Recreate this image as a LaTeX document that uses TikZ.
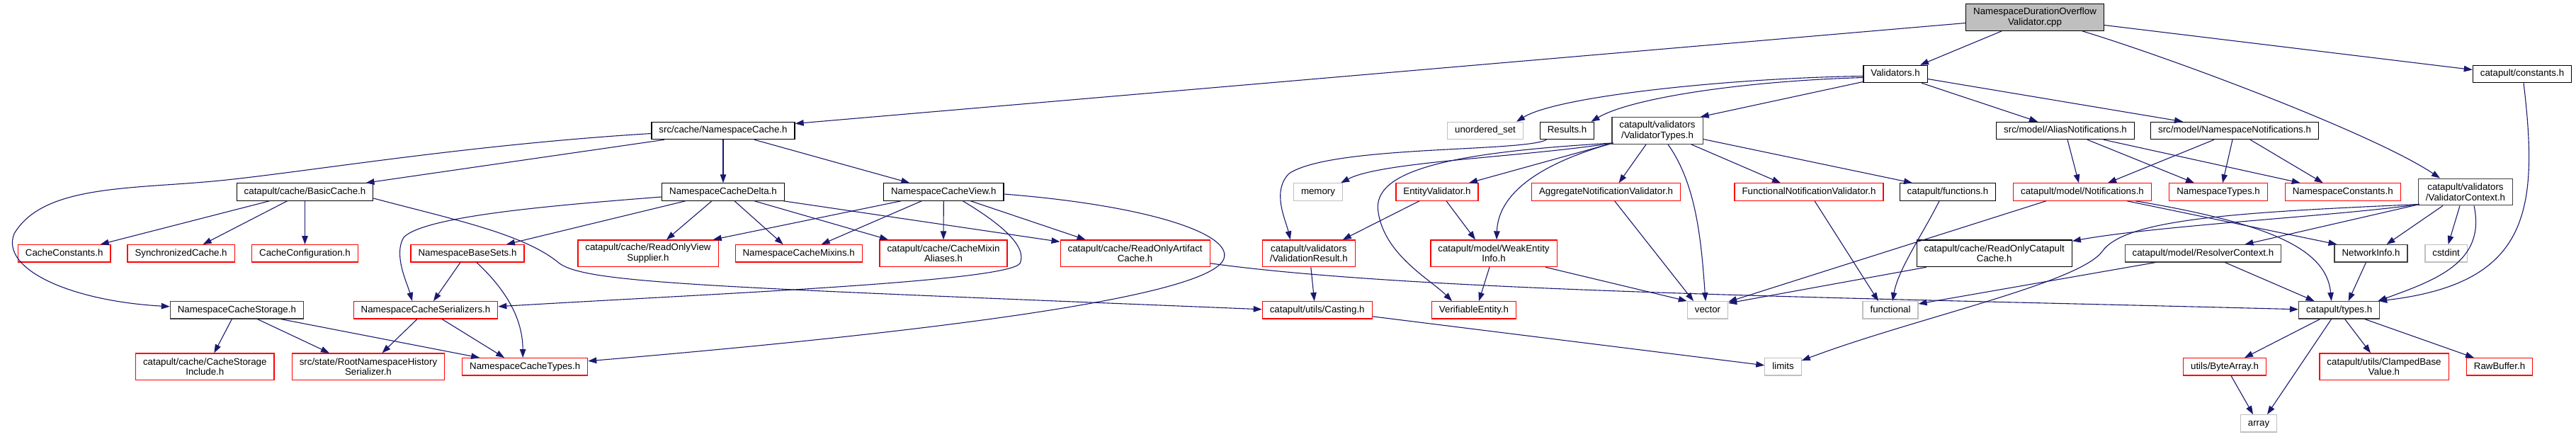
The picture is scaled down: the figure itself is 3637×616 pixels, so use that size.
\documentclass[tikz,border=0pt]{standalone}
\usepackage{fontspec}
\setmainfont{Liberation Sans}
\usetikzlibrary{arrows.meta}
\definecolor{edgecol}{RGB}{25,25,112}
\definecolor{dkgray}{RGB}{64,64,64}
\definecolor{ltgray}{RGB}{191,191,191}
\definecolor{rootfill}{RGB}{191,191,191}
\definecolor{redc}{RGB}{255,0,0}
\begin{document}
\begin{tikzpicture}[x=1pt,y=-1pt,
  nb/.style={line width=1.2pt, fill=white, inner xsep=10.5pt, inner ysep=0pt, font=\fontsize{13.3}{14.5}\selectfont},
  one/.style={nb, minimum height=24.3pt, text height=9.7pt, text depth=2.9pt},
  two/.style={nb, minimum height=37.7pt, align=center},
  blk/.style={draw=black},
  dg/.style={draw=dkgray},
  rd/.style={draw=redc},
  gr/.style={draw=ltgray},
  lk/.style={draw=edgecol, line width=1.1pt, -{Triangle[length=12pt,width=8.5pt]}, fill=none}
]
\useasboundingbox (0,0) rectangle (3637,616);

% row 0
\node[two,blk,fill=rootfill] (root) at (2873,24.5) {NamespaceDurationOverflow\\Validator.cpp};
% row 1
\node[one,blk] (val) at (2676,104.5) {Validators.h};
\node[one,blk] (const) at (3561,104.5) {catapult/constants.h};
% row 2
\node[one,blk] (nscache) at (1021,184.5) {src/cache/NamespaceCache.h};
\node[one,gr] (uset) at (2097,184.5) {unordered\_set};
\node[one,blk] (results) at (2212.5,184.5) {Results.h};
\node[two,dg] (vtypes) at (2340,184.5) {catapult/validators\\/ValidatorTypes.h};
\node[one,blk] (alias) at (2916,184.5) {src/model/AliasNotifications.h};
\node[one,blk] (nsnot) at (3155,184.5) {src/model/NamespaceNotifications.h};
% row 3
\node[one,blk] (basic) at (430.5,271) {catapult/cache/BasicCache.h};
\node[one,blk] (delta) at (1021,271) {NamespaceCacheDelta.h};
\node[one,blk] (view) at (1332.3,271) {NamespaceCacheView.h};
\node[one,gr] (memory) at (1861,271) {memory};
\node[one,rd] (entval) at (2029,271) {EntityValidator.h};
\node[one,rd] (aggval) at (2267.6,271) {AggregateNotificationValidator.h};
\node[one,rd] (funval) at (2554,271) {FunctionalNotificationValidator.h};
\node[one,blk] (functions) at (2750,271) {catapult/functions.h};
\node[one,rd] (notif) at (2940,271) {catapult/model/Notifications.h};
\node[one,rd] (nstypes) at (3132,271) {NamespaceTypes.h};
\node[one,rd] (nsconst) at (3307.7,271) {NamespaceConstants.h};
\node[two,dg] (vctx) at (3481,271) {catapult/validators\\/ValidatorContext.h};
% row 4
\node[one,rd] (cconst) at (90.7,357.8) {CacheConstants.h};
\node[one,rd] (sync) at (255.6,357.8) {SynchronizedCache.h};
\node[one,rd] (cconf) at (430.5,357.8) {CacheConfiguration.h};
\node[one,rd] (basesets) at (660,357.8) {NamespaceBaseSets.h};
\node[two,rd] (rovs) at (915,357.8) {catapult/cache/ReadOnlyView\\Supplier.h};
\node[one,rd] (mixins) at (1127.7,357.8) {NamespaceCacheMixins.h};
\node[two,rd] (mixal) at (1332,357.8) {catapult/cache/CacheMixin\\Aliases.h};
\node[two,rd] (roac) at (1602.6,357.8) {catapult/cache/ReadOnlyArtifact\\Cache.h};
\node[two,rd] (vres) at (1847.8,357.8) {catapult/validators\\/ValidationResult.h};
\node[two,rd] (wei) at (2109,357.8) {catapult/model/WeakEntity\\Info.h};
\node[two,blk] (rocc) at (2815.7,357.8) {catapult/cache/ReadOnlyCatapult\\Cache.h};
\node[one,dg] (resctx) at (3110.4,357.8) {catapult/model/ResolverContext.h};
\node[one,dg] (netinfo) at (3347.5,357.8) {NetworkInfo.h};
\node[one,gr] (cstdint) at (3453.6,357.8) {cstdint};
% row 5
\node[one,dg] (storage) at (334.4,437.8) {NamespaceCacheStorage.h};
\node[one,rd] (ser) at (601,437.8) {NamespaceCacheSerializers.h};
\node[one,rd] (casting) at (1859.7,437.8) {catapult/utils/Casting.h};
\node[one,rd] (verif) at (2081,437.8) {VerifiableEntity.h};
\node[one,gr] (vector) at (2411,437.8) {vector};
\node[one,gr] (functional) at (2669,437.8) {functional};
\node[one,dg] (types) at (3302.6,437.8) {catapult/types.h};
% row 6
\node[two,rd] (csi) at (289.3,517.8) {catapult/cache/CacheStorage\\Include.h};
\node[two,rd] (rnhs) at (520,517.8) {src/state/RootNamespaceHistory\\Serializer.h};
\node[one,rd] (nctypes) at (741.2,517.8) {NamespaceCacheTypes.h};
\node[one,gr] (limits) at (2517.5,517.8) {limits};
\node[one,rd] (bytearr) at (3141,517.8) {utils/ByteArray.h};
\node[two,rd] (clamped) at (3366,517.8) {catapult/utils/ClampedBase\\Value.h};
\node[one,rd] (rawbuf) at (3529,517.8) {RawBuffer.h};
% row 7
\node[one,gr] (array) at (3189,597.8) {array};

% ---- edges from root
\draw[lk] ([xshift=-47]root.south) -- ([xshift=35]val.north);
\draw[lk] ([yshift=-8]root.west) -- ([yshift=10]nscache.east);
\draw[lk] ([xshift=67]root.south) .. controls (3060,80) and (3350,188) .. ([xshift=-36]vctx.north);
\draw[lk] ([yshift=-11]root.east) -- ([yshift=6]const.west);
% ---- Validators.h
\draw[lk] ([yshift=-3]val.west) .. controls (2450,110) and (2200,135) .. ([xshift=44]uset.north);
\draw[lk] ([yshift=-5]val.west) .. controls (2450,115) and (2300,140) .. ([xshift=34]results.north);
\draw[lk] ([yshift=-11]val.west) -- ([xshift=-4]vtypes.north east);
\draw[lk] ([xshift=37]val.south) -- ([xshift=-39]alias.north);
\draw[lk] ([yshift=-7]val.east) -- ([xshift=-73]nsnot.north);
% ---- constants.h
\draw[lk] ([xshift=2]const.south) .. controls (3585,300) and (3570,400) .. ([xshift=-2]types.north east);
% ---- NamespaceCache.h
\draw[lk] ([yshift=-4]nscache.west) .. controls (650,205) and (420,245) .. (300,256)
  .. controls (180,267) and (60,262) .. (20,330)
  .. controls (0,380) and (100,425) .. ([yshift=5]storage.west);
\draw[lk] ([xshift=-83]nscache.south) -- ([xshift=86]basic.north);
\draw[lk] (nscache.south) -- (delta.north);
\draw[lk] ([xshift=44]nscache.south) -- ([xshift=-48]view.north);
% ---- BasicCache.h
\draw[lk] ([xshift=-50]basic.south) -- ([xshift=51]cconst.north);
\draw[lk] ([xshift=-25]basic.south) -- ([xshift=31]sync.north);
\draw[lk] (basic.south) -- (cconf.north);
\draw[lk] ([yshift=-9]basic.east) .. controls (640,310) and (740,330) .. (790,372)
  .. controls (830,400) and (1000,405) .. ([yshift=1]casting.west);
% ---- NamespaceCacheDelta.h
\draw[lk] ([yshift=-7]delta.west) .. controls (780,290) and (600,305) .. (570,335)
  .. controls (555,360) and (575,400) .. ([xshift=-19]ser.north);
\draw[lk] ([xshift=-53]delta.south) -- ([xshift=55]basesets.north);
\draw[lk] ([xshift=-16]delta.south) -- ([xshift=26]rovs.north);
\draw[lk] ([xshift=16]delta.south) -- ([xshift=-22]mixins.north);
\draw[lk] ([xshift=44]delta.south) -- ([xshift=-78]mixal.north);
\draw[lk] ([xshift=-2]delta.south east) -- ([yshift=-3]roac.north west);
% ---- NamespaceCacheView.h
\draw[lk] ([xshift=-60]view.south) -- ([xshift=-8]rovs.north east);
\draw[lk] ([xshift=-31]view.south) -- ([xshift=32]mixins.north);
\draw[lk] (view.south) -- (mixal.north);
\draw[lk] ([xshift=27]view.south) .. controls (1420,320) and (1450,350) .. (1440,372)
  .. controls (1420,398) and (1000,415) .. ([yshift=5]ser.east);
\draw[lk] ([xshift=38]view.south) -- ([xshift=-70]roac.north);
\draw[lk] ([yshift=-3]view.east) .. controls (1620,290) and (1740,330) .. (1728,365)
  .. controls (1710,420) and (1300,470) .. ([yshift=8]nctypes.east);
% ---- namespace cache helpers
\draw[lk] ([xshift=-10]basesets.south) -- ([xshift=11]ser.north);
\draw[lk] ([xshift=13]basesets.south) .. controls (715,410) and (738,450) .. ([xshift=-3]nctypes.north);
\draw[lk] ([xshift=-12]ser.south) -- ([xshift=19.5]rnhs.north);
\draw[lk] ([xshift=23]ser.south) -- ([xshift=-29]nctypes.north);
\draw[lk] ([xshift=-7]storage.south) -- ([xshift=13]csi.north);
\draw[lk] ([xshift=29]storage.south) -- ([xshift=-55]rnhs.north);
\draw[lk] ([xshift=62]storage.south) -- ([xshift=-64]nctypes.north);
% ---- Results.h
\draw[lk] ([xshift=-29]results.south) .. controls (2150,215) and (1880,205) .. (1820,245)
  .. controls (1795,270) and (1815,310) .. ([xshift=-26]vres.north);
% ---- ValidatorTypes.h
\draw[lk] ([xshift=2,yshift=2]vtypes.south west) .. controls (2150,222) and (1950,228) .. ([xshift=-3]memory.north east);
\draw[lk] ([xshift=2,yshift=2]vtypes.south west) -- ([xshift=45]entval.north);
\draw[lk] ([xshift=2,yshift=2]vtypes.south west) .. controls (2050,215) and (1935,240) .. (1946,300)
  .. controls (1955,360) and (2020,395) .. ([xshift=-31]verif.north);
\draw[lk] ([xshift=2,yshift=2]vtypes.south west) .. controls (2160,235) and (2115,280) .. ([xshift=4]wei.north);
\draw[lk] ([xshift=-16]vtypes.south) -- ([xshift=18]aggval.north);
\draw[lk] ([xshift=15]vtypes.south) .. controls (2395,260) and (2402,340) .. ([xshift=-3]vector.north);
\draw[lk] ([xshift=48]vtypes.south) -- ([xshift=-40]funval.north);
\draw[lk] ([yshift=-12]vtypes.east) -- ([xshift=-50]functions.north);
% ---- validators
\draw[lk] ([xshift=-25]entval.south) -- ([xshift=48]vres.north);
\draw[lk] ([xshift=13]entval.south) -- ([xshift=-26]wei.north);
\draw[lk] ([xshift=12]aggval.south) -- ([xshift=-20]vector.north);
\draw[lk] ([xshift=8]funval.south) -- ([xshift=-17]functional.north);
\draw[lk] ([xshift=-12]functions.south) .. controls (2715,330) and (2680,380) .. ([xshift=3]functional.north);
% ---- notifications
\draw[lk] ([xshift=3]alias.south) -- ([xshift=-5]notif.north);
\draw[lk] ([xshift=31]alias.south) -- ([xshift=-34]nstypes.north);
\draw[lk] ([xshift=54]alias.south) -- ([xshift=-60]nsconst.north);
\draw[lk] ([xshift=-29]nsnot.south) -- ([xshift=36]notif.north);
\draw[lk] ([xshift=-3]nsnot.south) -- ([xshift=6]nstypes.north);
\draw[lk] ([xshift=22]nsnot.south) -- ([xshift=-28]nsconst.north);
\draw[lk] ([xshift=-51]notif.south) -- ([yshift=-1]vector.north east);
\draw[lk] ([xshift=63]notif.south) -- ([xshift=-48]netinfo.north);
\draw[lk] ([xshift=75]notif.south) .. controls (3200,315) and (3285,350) .. ([xshift=-11]types.north);
% ---- ValidatorContext.h
\draw[lk] ([xshift=2,yshift=2]vctx.south west) .. controls (3300,305) and (3050,318) .. ([yshift=-2]rocc.north east);
\draw[lk] ([xshift=2,yshift=2]vctx.south west) -- ([xshift=59]resctx.north);
\draw[lk] ([xshift=2,yshift=2]vctx.south west) .. controls (3150,300) and (3000,310) .. (2968,355)
  .. controls (2935,400) and (2700,450) .. ([yshift=-4]limits.north east);
\draw[lk] ([xshift=-32]vctx.south) -- ([xshift=22]netinfo.north);
\draw[lk] ([xshift=-8]vctx.south) -- ([xshift=3]cstdint.north);
\draw[lk] ([xshift=12]vctx.south) .. controls (3510,370) and (3440,395) .. ([xshift=-3]types.north east);
% ---- lower right
\draw[lk] ([xshift=-96]rocc.south) -- ([yshift=-3]vector.north east);
\draw[lk] ([xshift=-67]resctx.south) -- ([yshift=-4]functional.north east);
\draw[lk] ([xshift=31]resctx.south) -- ([xshift=-35]types.north);
\draw[lk] ([xshift=-7]netinfo.south) -- ([xshift=13]types.north);
\draw[lk] ([yshift=-14]roac.east) .. controls (2000,412) and (2600,420) .. ([yshift=1]types.west);
\draw[lk] ([xshift=3]vres.south) -- ([xshift=-4]casting.north);
\draw[lk] ([yshift=-9]casting.east) -- ([yshift=2]limits.west);
\draw[lk] ([xshift=-6]wei.south) -- ([xshift=7]verif.north);
\draw[lk] ([xshift=73]wei.south) -- (vector.north west);
\draw[lk] ([xshift=-27]types.south) -- ([xshift=28]bytearr.north);
\draw[lk] ([xshift=8]types.south) -- ([xshift=-19]clamped.north);
\draw[lk] ([xshift=36]types.south) -- ([xshift=-36]rawbuf.north);
\draw[lk] ([xshift=-11]types.south) -- ([xshift=12]array.north);
\draw[lk] ([xshift=9]bytearr.south) -- ([xshift=-8]array.north);
\end{tikzpicture}
\end{document}
